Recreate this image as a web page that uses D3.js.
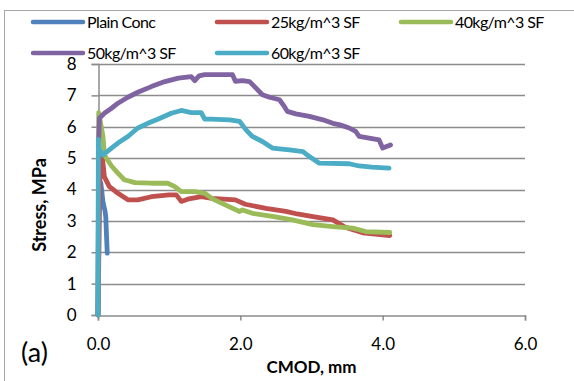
<!DOCTYPE html>
<html>
<head>
<meta charset="utf-8">
<script src="https://cdn.jsdelivr.net/npm/d3@7"></script>
<style>
  body { margin: 0; background: #fff; }
  text { font-family: Lato, "Liberation Sans", sans-serif; fill: #000; }
</style>
</head>
<body>
<svg id="chart" width="574" height="381"></svg>
<script>
// series names and colours (Excel 2010 palette)
const seriesNames = ["Plain Conc", "25kg/m^3 SF", "40kg/m^3 SF", "50kg/m^3 SF", "60kg/m^3 SF"];
const seriesColors = ["#4F81BD", "#C0504D", "#9BBB59", "#8064A2", "#4BACC6"];

// [CMOD mm, stress MPa]
const plainConc = [[0,0],[0.01,4.3],[0.04,4.2],[0.07,3.6],[0.1,3.3],[0.11,3.1],[0.12,2.5],[0.13,1.97]];
const sf25 = [[0,0],[0.03,4.8],[0.06,5.05],[0.09,4.4],[0.16,4.09],[0.28,3.88],[0.42,3.67],[0.56,3.67],
  [0.75,3.77],[1.0,3.83],[1.1,3.83],[1.17,3.62],[1.26,3.69],[1.45,3.77],[1.6,3.72],[1.93,3.67],
  [2.07,3.53],[2.36,3.4],[2.64,3.3],[2.8,3.22],[3.0,3.14],[3.3,3.03],[3.47,2.8],[3.72,2.62],[4.1,2.53]];
const sf40 = [[0,0],[0.01,6.45],[0.07,5.69],[0.09,5.1],[0.19,4.75],[0.28,4.52],[0.37,4.31],[0.52,4.22],
  [0.75,4.2],[0.98,4.2],[1.08,4.09],[1.17,3.93],[1.36,3.93],[1.5,3.88],[1.61,3.7],[1.75,3.55],
  [1.99,3.3],[2.03,3.35],[2.17,3.24],[2.45,3.14],[2.73,3.03],[3.02,2.88],[3.3,2.82],[3.58,2.77],
  [3.76,2.66],[4.1,2.63]];
const sf50 = [[0,0],[0.01,5.6],[0.02,6.27],[0.09,6.43],[0.19,6.59],[0.28,6.75],[0.42,6.94],[0.56,7.1],
  [0.75,7.28],[0.94,7.44],[1.13,7.55],[1.31,7.6],[1.36,7.47],[1.42,7.62],[1.5,7.66],[1.89,7.66],
  [1.93,7.45],[2.03,7.47],[2.13,7.44],[2.22,7.23],[2.31,7.02],[2.41,6.94],[2.55,6.86],[2.62,6.64],
  [2.66,6.49],[2.78,6.41],[2.97,6.33],[3.16,6.22],[3.3,6.11],[3.4,6.06],[3.53,5.96],[3.62,5.85],
  [3.67,5.69],[3.81,5.64],[3.95,5.58],[4.0,5.32],[4.11,5.42]];
const sf60 = [[0,0],[0.005,5.6],[0.02,5.26],[0.07,5.1],[0.19,5.32],[0.28,5.48],[0.42,5.69],[0.56,5.96],
  [0.7,6.11],[0.84,6.24],[1.03,6.43],[1.17,6.52],[1.31,6.45],[1.45,6.45],[1.5,6.24],[1.59,6.24],
  [1.85,6.22],[1.99,6.17],[2.08,5.9],[2.17,5.69],[2.31,5.53],[2.45,5.32],[2.69,5.26],[2.88,5.21],
  [2.97,5.05],[3.11,4.84],[3.53,4.82],[3.67,4.75],[3.85,4.71],[4.09,4.68]];
const seriesData = [plainConc, sf25, sf40, sf50, sf60];

const xTicks = [0, 2, 4, 6];
const yTicks = [0, 1, 2, 3, 4, 5, 6, 7, 8];

const svg = d3.select("#chart");
const plotL = 98, plotR = 525, plotT = 64, plotB = 315;

// outer chart frame (cropped by the picture edge)
svg.append("rect").attr("x", 4.5).attr("y", 10.5).attr("width", 600).attr("height", 400)
  .attr("fill", "none").attr("stroke", "#a6a6a6").attr("stroke-width", 1);

const x = d3.scaleLinear().domain([0, 6]).range([plotL, plotR]);
const y = d3.scaleLinear().domain([0, 8]).range([plotB, plotT]);

// horizontal gridlines
svg.append("g").selectAll("line").data(yTicks.slice(1)).join("line")
  .attr("x1", plotL).attr("x2", plotR)
  .attr("y1", d => Math.round(y(d)) + 0.5).attr("y2", d => Math.round(y(d)) + 0.5)
  .attr("stroke", "#8c8c8c").attr("stroke-width", 1.5);

// y axis
const yAxis = d3.axisLeft(y).tickValues(yTicks).tickFormat(d3.format("d")).tickSize(7).tickPadding(15);
const gy = svg.append("g").attr("transform", `translate(${plotL + 0.5},0)`).call(yAxis);
gy.select(".domain").attr("stroke", "#8c8c8c").attr("stroke-width", 1.5);
gy.selectAll(".tick line").attr("stroke", "#8c8c8c").attr("stroke-width", 1.5);
gy.selectAll(".tick text").attr("font-size", 17).attr("font-family", "Lato, sans-serif");

// x axis
const xAxis = d3.axisBottom(x).tickValues(xTicks).tickFormat(d3.format(".1f")).tickSize(5).tickPadding(17);
const gx = svg.append("g").attr("transform", `translate(0,${plotB + 0.5})`).call(xAxis);
gx.select(".domain").attr("stroke", "#8c8c8c").attr("stroke-width", 1.5);
gx.selectAll(".tick line").attr("stroke", "#8c8c8c").attr("stroke-width", 1.5);
gx.selectAll(".tick text").attr("font-size", 17).attr("font-family", "Lato, sans-serif");

// series lines
const line = d3.line().x(d => x(d[0])).y(d => y(d[1]));
svg.append("g").selectAll("path").data(seriesData).join("path")
  .attr("d", line)
  .attr("fill", "none")
  .attr("stroke", (d, i) => seriesColors[i])
  .attr("stroke-width", 4.8)
  .attr("stroke-linejoin", "round")
  .attr("stroke-linecap", "round");

// axis titles
svg.append("text").attr("x", (plotL + plotR) / 2).attr("y", 373)
  .attr("text-anchor", "middle").attr("font-size", 17).attr("font-weight", "bold")
  .text("CMOD, mm");
svg.append("text").attr("transform", "translate(46,205) rotate(-90)")
  .attr("text-anchor", "middle").attr("font-size", 18).attr("font-weight", "bold")
  .text("Stress, MPa");
svg.append("text").attr("x", 21).attr("y", 362).attr("font-size", 27).text("(a)");

// legend
const legendPos = [[33, 22], [217, 22], [401, 22], [33, 53], [217, 53]];
const legend = svg.append("g").selectAll("g").data(seriesNames).join("g")
  .attr("transform", (d, i) => `translate(${legendPos[i][0]},${legendPos[i][1]})`);
legend.append("line").attr("x1", 0).attr("x2", 50)
  .attr("stroke", (d, i) => seriesColors[i]).attr("stroke-width", 4.5).attr("stroke-linecap", "round");
legend.append("text").attr("x", 54).attr("y", 5.5).attr("font-size", 16)
  .attr("letter-spacing", -0.6).text(d => d);
</script>
</body>
</html>
